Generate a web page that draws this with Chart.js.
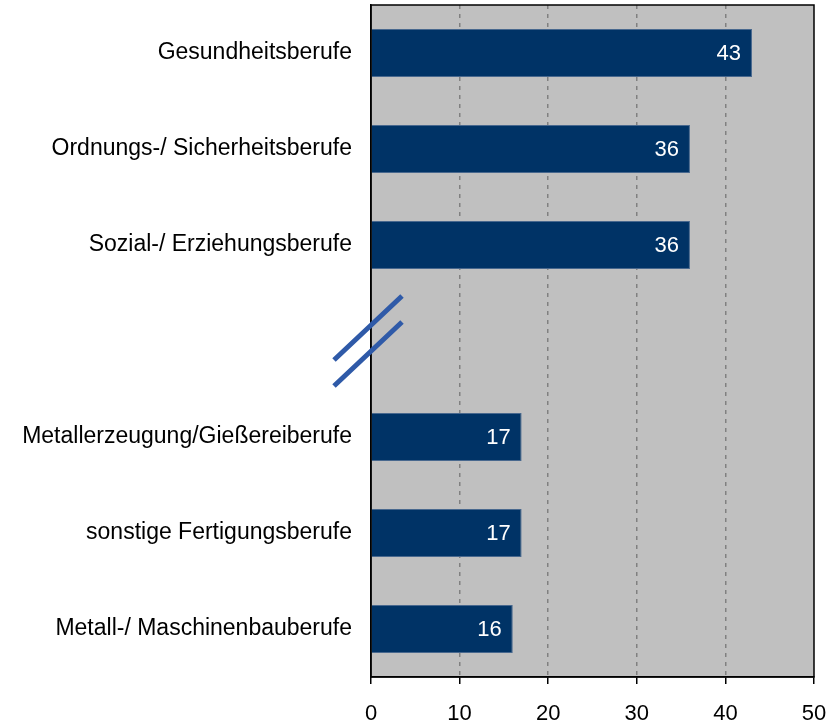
<!DOCTYPE html>
<html>
<head>
<meta charset="utf-8">
<script src="https://cdn.jsdelivr.net/npm/chart.js@4.4.0/dist/chart.umd.min.js"></script>
<style>
html, body { margin: 0; padding: 0; background: #fff; }
#wrap { width: 837px; height: 724px; }
</style>
</head>
<body>
<div id="wrap"><canvas id="berufeChart"></canvas></div>
<script>
// data (empty slot = axis break)
var berufe = [
    "Gesundheitsberufe",
    "Ordnungs-/ Sicherheitsberufe",
    "Sozial-/ Erziehungsberufe",
    "",
    "Metallerzeugung/Gießereiberufe",
    "sonstige Fertigungsberufe",
    "Metall-/ Maschinenbauberufe"
];
var werte = [43, 36, 36, null, 17, 17, 16];
var xMin = 0;
var xMax = 50;
var xStep = 10;
var breakIndex = 3;

Chart.defaults.font.family = "'Liberation Sans', Arial, sans-serif";
Chart.defaults.font.size = 22;
Chart.defaults.color = "#000";

var plotBg = {
    id: "plotBg",
    beforeDraw: function (chart) {
        var a = chart.chartArea;
        var ctx = chart.ctx;
        ctx.save();
        ctx.fillStyle = "#c0c0c0";
        ctx.fillRect(a.left, a.top, a.right - a.left, a.bottom - a.top);
        ctx.restore();
    },
    afterDatasetsDraw: function (chart) {
        var a = chart.chartArea;
        var ctx = chart.ctx;
        ctx.save();
        // frame round the plot
        ctx.strokeStyle = "#000";
        ctx.lineWidth = 1.5;
        ctx.setLineDash([]);
        ctx.strokeRect(a.left, a.top, a.right - a.left, a.bottom - a.top);
        // value labels inside the bar ends
        var meta = chart.getDatasetMeta(0);
        ctx.fillStyle = "#fff";
        ctx.font = "22px 'Liberation Sans', Arial, sans-serif";
        ctx.textAlign = "right";
        ctx.textBaseline = "middle";
        for (var i = 0; i < meta.data.length; i++) {
            if (werte[i] == null) continue;
            var bar = meta.data[i];
            ctx.fillText(String(werte[i]), bar.x - 11, bar.y + 1);
        }
        // break marks on the y axis
        var x0 = chart.scales.x.getPixelForValue(0);
        var yc = chart.scales.y.getPixelForValue(breakIndex);
        ctx.strokeStyle = "#2f5aa8";
        ctx.lineWidth = 5;
        ctx.beginPath();
        ctx.moveTo(x0 - 37, yc + 19);
        ctx.lineTo(x0 + 31, yc - 45);
        ctx.moveTo(x0 - 37, yc + 45);
        ctx.lineTo(x0 + 31, yc - 19);
        ctx.stroke();
        ctx.restore();
    }
};

new Chart("berufeChart", {
    type: "bar",
    data: {
        labels: berufe,
        datasets: [{
            data: werte,
            backgroundColor: "#003366",
            borderColor: "#48688e",
            borderWidth: 1,
            barPercentage: 0.5,
            categoryPercentage: 1
        }]
    },
    options: {
        indexAxis: "y",
        responsive: true,
        maintainAspectRatio: false,
        animation: false,
        layout: { padding: { top: 5, right: 23, left: 0, bottom: 0 } },
        plugins: {
            legend: { display: false },
            tooltip: { enabled: false }
        },
        scales: {
            x: {
                min: xMin,
                max: xMax,
                ticks: { stepSize: xStep, padding: 17, color: "#000", font: { size: 22 } },
                grid: {
                    color: function (c) {
                        return (c.tick && c.tick.value > xMin && c.tick.value < xMax) ? "#808080" : "rgba(0,0,0,0)";
                    },
                    lineWidth: 1.5,
                    tickColor: "#000",
                    tickBorderDash: [],
                    tickLength: 7,
                    tickWidth: 1.5
                },
                border: { display: true, color: "#000", width: 1.5, dash: [4, 5] },
                afterFit: function (s) {
                    s.height = 47;
                    s.paddingLeft = 0;
                    s.paddingRight = 0;
                }
            },
            y: {
                ticks: { padding: 19, color: "#000", autoSkip: false, font: { size: 23 } },
                grid: { display: false, drawTicks: false },
                border: { display: true, color: "#000", width: 1.5 },
                afterFit: function (s) {
                    s.width = 371;
                    s.paddingTop = 0;
                    s.paddingBottom = 0;
                }
            }
        }
    },
    plugins: [plotBg]
});
</script>
</body>
</html>
